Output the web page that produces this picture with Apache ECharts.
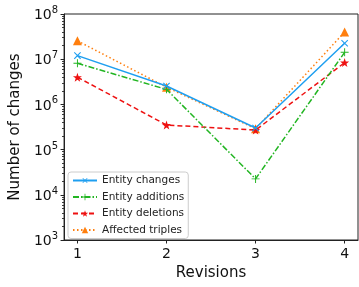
<!DOCTYPE html>
<html lang="en">
<head>
    <meta charset="UTF-8">
    <title></title>
    <script src="https://cdn.jsdelivr.net/npm/echarts@6/dist/echarts.min.js"></script>
    <style>
        html,body{margin:0;padding:0;background:#fff;}
    </style>
</head>
<body>
    <div id="charts" style="width: 359px;height:287px;"></div>
    <script type="text/javascript">
        // revisions on the x axis
        var revisions=[1,2,3,4];
        var entityChanges=[1.2e7,2.55e6,3.0e5,2.25e7];
        var entityAdditions=[8.1e6,2.15e6,2.25e4,1.42e7];
        var entityDeletions=[4.0e6,3.5e5,2.7e5,8.4e6];
        var affectedTriples=[2.55e7,2.4e6,2.9e5,4.0e7];
        // minor ticks 2..9 x 10^n, kept as exponents for a tick-only axis
        var minorTicks=[];
        for(var d=3;d<8;d++){
            for(var m=2;m<=9;m++){
                minorTicks.push(Math.log10(m*Math.pow(10,d)));
            }
        }

        var font='DejaVu Sans';
        var plus='path://M4.4,0h1.2v4.4h4.4v1.2h-4.4v4.4h-1.2v-4.4h-4.4v-1.2h4.4z';
        var star='path://M50,0L61.8,35.1L97.6,35.1L68.8,56.7L79.4,90.5L50,70L20.6,90.5L31.2,56.7L2.4,35.1L38.2,35.1Z';

        function pairs(vals){
            var out=[];
            for(var i=0;i<revisions.length;i++){
                out.push([revisions[i],vals[i]]);
            }
            return out;
        }

        var myChart = echarts.init(document.getElementById('charts'));
        var option = {
            animation:false,
            textStyle:{fontFamily:font},
            grid:{
                left:63,right:1,top:14,bottom:47,
                show:true,borderColor:'#222',borderWidth:1
            },
            legend:{
                left:68,top:172,
                orient:'vertical',
                itemGap:5.5,
                itemWidth:24,
                itemHeight:8,
                padding:[3,4,3,4],
                borderColor:'#ccc',
                borderWidth:1,
                borderRadius:3,
                backgroundColor:'rgba(255,255,255,0.8)',
                textStyle:{fontFamily:font,fontSize:10.5,color:'#222'},
                data:['Entity changes','Entity additions','Entity deletions','Affected triples']
            },
            xAxis:{
                type:'value',
                min:0.85,max:4.15,
                interval:1,
                name:'Revisions',
                nameLocation:'middle',
                nameGap:26,
                nameTextStyle:{fontFamily:font,fontSize:15,color:'#111'},
                splitLine:{show:false},
                axisLine:{lineStyle:{color:'#222'}},
                axisTick:{length:3.5,lineStyle:{color:'#222'},customValues:revisions},
                axisLabel:{fontFamily:font,fontSize:14,color:'#111',margin:7,customValues:revisions}
            },
            yAxis:[{
                type:'log',
                min:1e3,max:1e8,
                logBase:10,
                name:'Number of changes',
                nameLocation:'middle',
                nameGap:38,
                nameTextStyle:{fontFamily:font,fontSize:15,color:'#111'},
                splitLine:{show:false},
                axisLine:{show:true,lineStyle:{color:'#222'}},
                axisTick:{length:3.5,lineStyle:{color:'#222'}},
                axisLabel:{
                    margin:6,
                    formatter:function(v){
                        return '{b|10}{s|'+Math.round(Math.log10(v))+'}';
                    },
                    rich:{
                        b:{fontFamily:font,fontSize:14,color:'#111',verticalAlign:'bottom'},
                        s:{fontFamily:font,fontSize:10,color:'#111',verticalAlign:'top',padding:[0,0,7,0]}
                    }
                }
            },{
                type:'value',
                min:3,max:8,
                position:'left',
                splitLine:{show:false},
                axisLine:{show:true,lineStyle:{color:'rgba(0,0,0,0)'}},
                axisLabel:{show:false},
                axisTick:{show:true,length:2,lineStyle:{color:'#333',width:1},customValues:minorTicks}
            }],
            series:[
                {
                    name:'Entity changes',
                    type:'line',
                    data:pairs(entityChanges),
                    symbol:plus,
                    symbolRotate:45,
                    symbolSize:9,
                    itemStyle:{color:'#1f9ff0'},
                    lineStyle:{width:1.5,type:'solid',color:'#1f9ff0'},
                    z:4
                },
                {
                    name:'Entity additions',
                    type:'line',
                    data:pairs(entityAdditions),
                    symbol:plus,
                    symbolSize:8,
                    itemStyle:{color:'#22b522'},
                    lineStyle:{width:1.5,type:[6,2,1.5,2],color:'#22b522'},
                    z:3
                },
                {
                    name:'Entity deletions',
                    type:'line',
                    data:pairs(entityDeletions),
                    symbol:star,
                    symbolSize:9,
                    itemStyle:{color:'#ee1111'},
                    lineStyle:{width:1.5,type:[5,3],color:'#ee1111'},
                    z:2
                },
                {
                    name:'Affected triples',
                    type:'line',
                    data:pairs(affectedTriples),
                    symbol:'triangle',
                    symbolSize:9,
                    itemStyle:{color:'#ff7f0e'},
                    lineStyle:{width:1.5,type:[1.5,2.5],color:'#ff7f0e'},
                    z:1
                }
            ]
        };
        myChart.setOption(option);
    </script>
</body>
</html>
